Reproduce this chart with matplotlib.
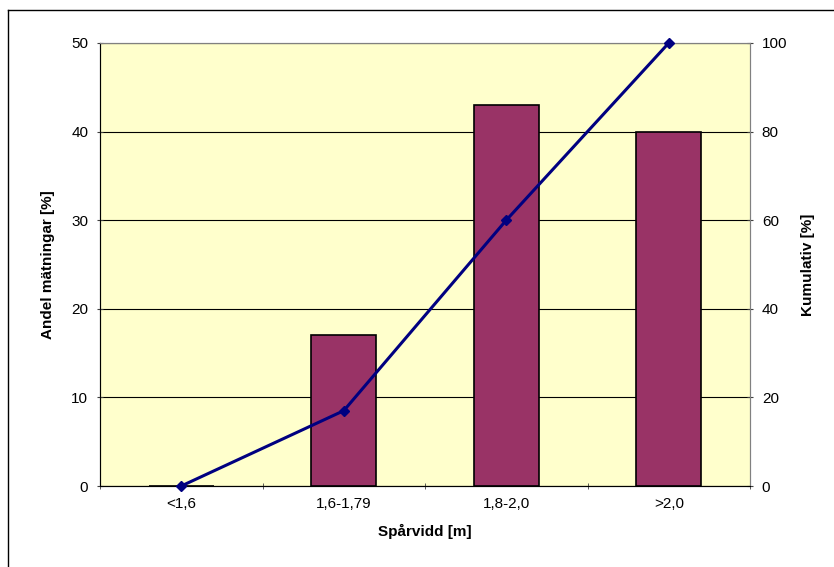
import matplotlib.pyplot as plt
from matplotlib.lines import Line2D
import numpy as np

plt.rcParams['font.family'] = ['Liberation Sans', 'DejaVu Sans']

# data
categories = ['<1,6', '1,6-1,79', '1,8-2,0', '>2,0']
andel = [0, 17, 43, 40]
kumulativ = [0, 17, 60, 100]

fig = plt.figure(figsize=(8.34, 5.67), dpi=100)
ax = fig.add_axes([100/834, 1-486/567, 650/834, 443/567])
ax.set_facecolor('#FFFFCC')

x = np.arange(len(categories))
ax.bar(x, andel, width=0.4, color='#993366', edgecolor='black', linewidth=1.2, zorder=3)
ax.set_xlim(-0.5, len(categories) - 0.5)
ax.set_ylim(0, 50)
ax.set_yticks(np.arange(0, 51, 10))
ax.yaxis.grid(True, color='black', linewidth=0.8, zorder=0)
ax.set_axisbelow(True)

# category labels centered, tick marks at boundaries
ax.set_xticks(x)
ax.set_xticklabels(categories, fontsize=11)
ax.tick_params(axis='x', length=0, pad=8)
ax.set_xticks(np.arange(-0.5, len(categories), 1), minor=True)
ax.tick_params(axis='x', which='minor', length=5, direction='inout', color='#404040')
ax.tick_params(axis='y', length=5, direction='inout', color='#404040', labelsize=11, pad=6)

for s in ['left', 'bottom']:
    ax.spines[s].set_color('#404040')
for s in ['top', 'right']:
    ax.spines[s].set_color('#808080')

ax.set_xlabel('Spårvidd [m]', fontsize=11, fontweight='bold', labelpad=9)
ax.set_ylabel('Andel mätningar [%]', fontsize=11, fontweight='bold', labelpad=12)

ax2 = ax.twinx()
ax2.plot(x, kumulativ, color='#000080', linewidth=2.2, marker='D', markersize=5,
         zorder=4, clip_on=False)
ax2.set_ylim(0, 100)
ax2.set_yticks(np.arange(0, 101, 20))
ax2.tick_params(axis='y', length=5, direction='inout', color='#404040', labelsize=11, pad=6)
ax2.spines['right'].set_color('#808080')
ax2.spines['top'].set_color('#808080')
ax2.set_ylabel('Kumulativ [%]', fontsize=11, fontweight='bold', labelpad=10)

# outer border (left and top visible)
fig.add_artist(Line2D([8/834, 8/834], [0, 1-10/567], transform=fig.transFigure, color='black', linewidth=1))
fig.add_artist(Line2D([8/834, 1], [1-10/567, 1-10/567], transform=fig.transFigure, color='black', linewidth=1))

fig.savefig('out.png', dpi=100)
